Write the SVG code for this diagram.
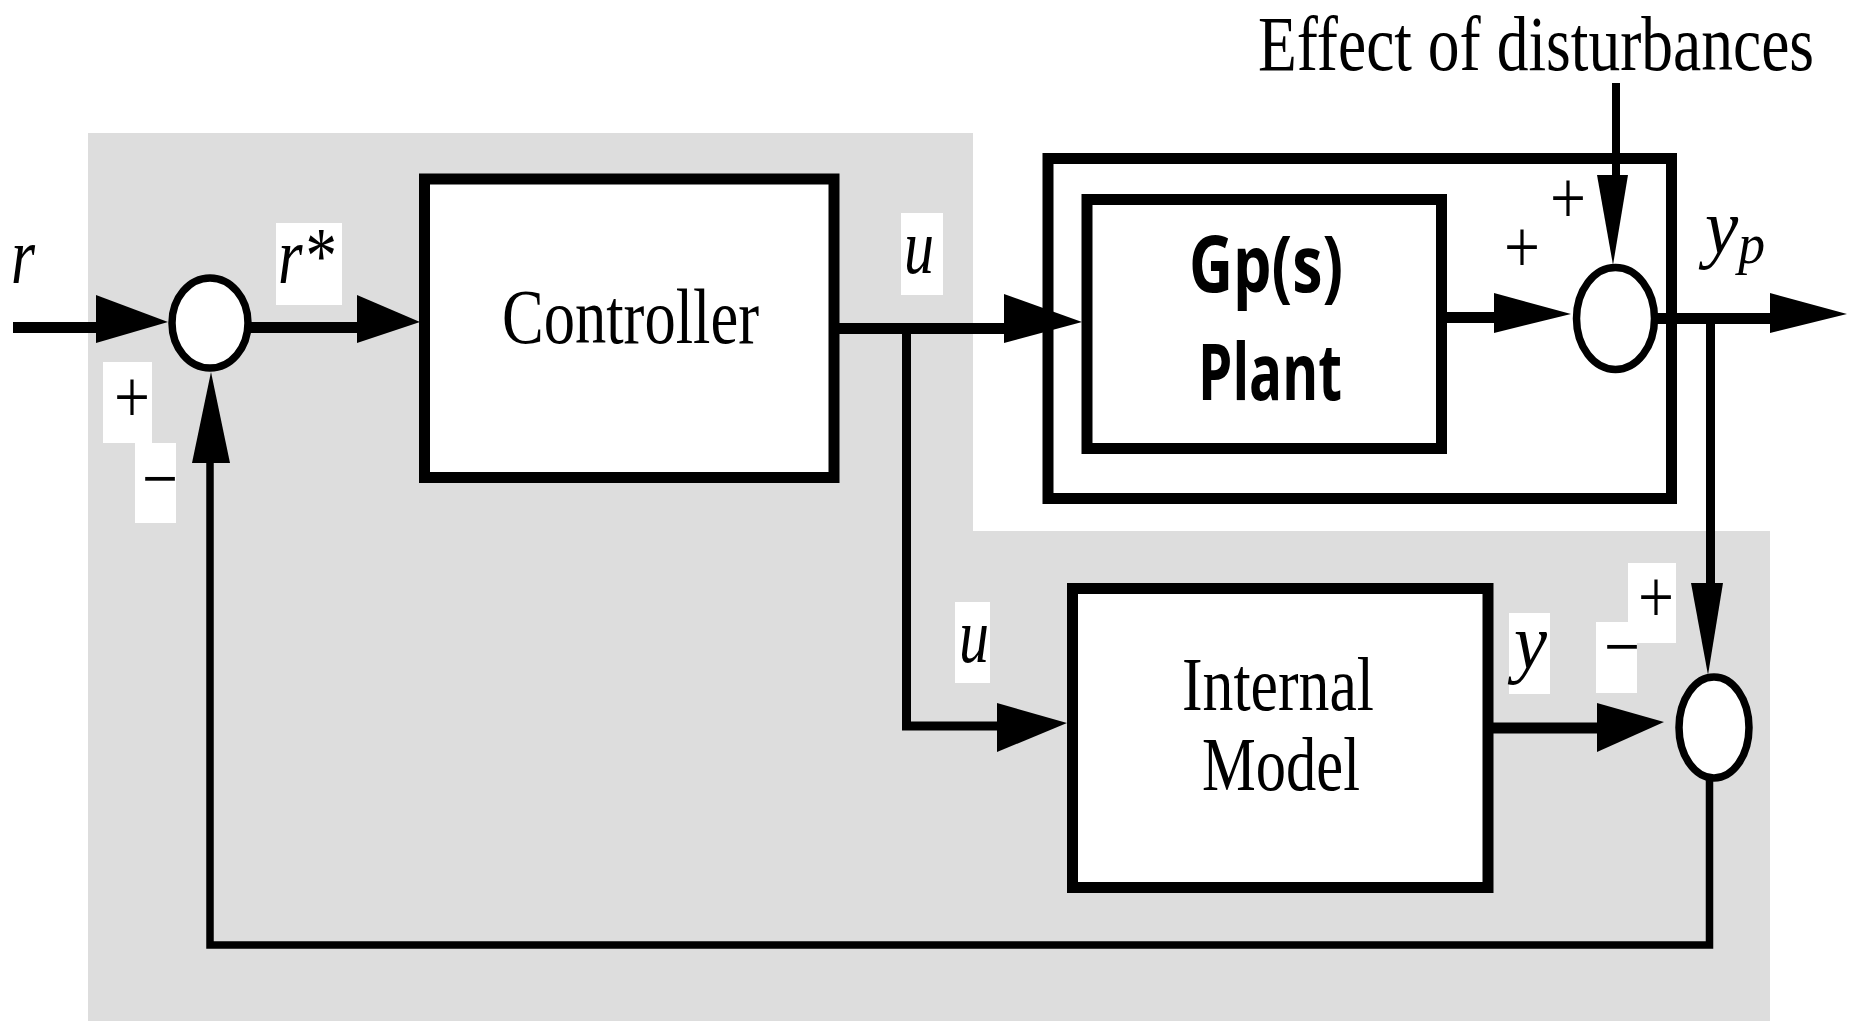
<svg xmlns="http://www.w3.org/2000/svg" width="1850" height="1021" viewBox="0 0 1850 1021">
  <style>
    .box { fill: #ffffff; stroke: #000000; stroke-width: 11; }
    .sum { fill: #ffffff; stroke: #000000; stroke-width: 7.5; }
    .wire { fill: none; stroke: #000000; stroke-linejoin: miter; stroke-linecap: butt; }
    .w11 { stroke-width: 11; }
    .w9 { stroke-width: 9; }
    .w8 { stroke-width: 8; }
    .w7 { stroke-width: 7.5; }
    .head { fill: #000000; stroke: none; }
    .pad { fill: #ffffff; stroke: none; }
    .serif { font-family: "Liberation Serif", "Times New Roman", serif; fill: #000000; }
    .ital { font-style: italic; }
    .bold { font-family: "Open Sans", "Noto Sans", sans-serif; font-weight: bold; fill: #000000; }
  </style>

  <rect x="0" y="0" width="1850" height="1021" fill="#ffffff"/>

  <!-- shaded region: controller side of the IMC structure -->
  <polygon points="88,133 973,133 973,531 1770,531 1770,1021 88,1021" fill="#dddddd"/>

  <!-- white pads behind signal labels -->
  <g id="label-pads">
    <rect class="pad" x="276" y="223" width="66" height="82"/>
    <rect class="pad" x="901" y="213" width="42" height="82"/>
    <rect class="pad" x="955" y="602" width="35" height="81"/>
    <rect class="pad" x="1509" y="613" width="41" height="81"/>
    <rect class="pad" x="103" y="362" width="49" height="81"/>
    <rect class="pad" x="135" y="443" width="41" height="80"/>
    <rect class="pad" x="1628" y="563" width="48" height="80"/>
    <rect class="pad" x="1596" y="622" width="41" height="71"/>
  </g>

  <!-- blocks -->
  <g id="controller">
    <rect class="box" x="424.5" y="179" width="409.5" height="298.5"/>
    <text class="serif" x="502" y="343" font-size="78" textLength="257" lengthAdjust="spacingAndGlyphs">Controller</text>
  </g>

  <g id="plant-process">
    <rect class="box" x="1048" y="158.5" width="623.5" height="340"/>
  </g>

  <g id="plant">
    <rect class="box" x="1087" y="199.5" width="354.5" height="249"/>
    <text class="bold" x="1189" y="292" font-size="78" textLength="154" lengthAdjust="spacingAndGlyphs">Gp(s)</text>
    <text class="bold" x="1198" y="400" font-size="78" textLength="144" lengthAdjust="spacingAndGlyphs">Plant</text>
  </g>

  <g id="internal-model">
    <rect class="box" x="1072.5" y="588.5" width="415.5" height="299"/>
    <text class="serif" x="1182" y="710" font-size="76" textLength="192" lengthAdjust="spacingAndGlyphs">Internal</text>
    <text class="serif" x="1202" y="790" font-size="76" textLength="158" lengthAdjust="spacingAndGlyphs">Model</text>
  </g>

  <g id="sum-reference">
    <ellipse class="sum" cx="210" cy="323" rx="38" ry="45"/>
  </g>

  <g id="sum-disturbance">
    <ellipse class="sum" cx="1615.5" cy="318.5" rx="39" ry="51"/>
  </g>

  <g id="sum-model-error">
    <ellipse class="sum" cx="1714" cy="727.5" rx="35" ry="50.5"/>
  </g>

  <!-- signal lines and arrowheads -->
  <g id="connectors">
    <!-- r into first summing junction -->
    <line class="wire w11" x1="13" y1="327.5" x2="100" y2="327.5"/>
    <polygon class="head" points="96,295 96,343 168,322"/>

    <!-- r* into controller -->
    <line class="wire w11" x1="246" y1="327.5" x2="360" y2="327.5"/>
    <polygon class="head" points="357,295 357,343 420,322"/>

    <!-- u into plant -->
    <line class="wire w11" x1="834" y1="328.5" x2="1008" y2="328.5"/>
    <polygon class="head" points="1004,294 1004,343 1082,322"/>

    <!-- u branch into internal model -->
    <polyline class="wire w9" points="906.5,328 906.5,726 1000,726"/>
    <polygon class="head" points="997,703 997,752 1067,723"/>

    <!-- plant output into disturbance junction -->
    <line class="wire w11" x1="1441.5" y1="317.5" x2="1498" y2="317.5"/>
    <polygon class="head" points="1494,293 1494,333 1571,314"/>

    <!-- disturbance input -->
    <line class="wire w8" x1="1616" y1="83" x2="1616" y2="178"/>
    <polygon class="head" points="1597,175 1628,175 1613,265"/>

    <!-- yp output -->
    <line class="wire w11" x1="1653" y1="318.5" x2="1774" y2="318.5"/>
    <polygon class="head" points="1770,293 1770,333 1847,314"/>

    <!-- yp branch down to model-error junction -->
    <line class="wire w9" x1="1710.5" y1="318" x2="1710.5" y2="586"/>
    <polygon class="head" points="1691,583 1723,583 1708,675"/>

    <!-- model output y into model-error junction -->
    <line class="wire w11" x1="1488" y1="728" x2="1600" y2="728"/>
    <polygon class="head" points="1597,703 1597,752 1664,722"/>

    <!-- feedback path back to the first junction -->
    <polyline class="wire w7" points="1709.5,776 1709.5,945 210,945 210,460"/>
    <polygon class="head" points="192,463 230,463 211,372"/>
  </g>

  <!-- signal names -->
  <g id="signal-labels">
    <text class="serif ital" x="11" y="283" font-size="80" textLength="24" lengthAdjust="spacingAndGlyphs">r</text>
    <text class="serif ital" x="278" y="283" font-size="80" textLength="56" lengthAdjust="spacingAndGlyphs">r*</text>
    <text class="serif ital" x="904" y="273" font-size="78" textLength="30" lengthAdjust="spacingAndGlyphs">u</text>
    <text class="serif ital" x="959" y="662" font-size="78" textLength="30" lengthAdjust="spacingAndGlyphs">u</text>
    <text class="serif ital" x="1514" y="668" font-size="78" textLength="33" lengthAdjust="spacingAndGlyphs">y</text>
    <text class="serif ital" x="1705" y="253" font-size="78" textLength="60" lengthAdjust="spacingAndGlyphs">y<tspan dy="10" font-size="56">p</tspan></text>
    <!-- condensed serif caption, narrowed with a horizontal scale -->
    <text class="serif" transform="translate(1258,70) scale(0.813,1)" x="0" y="0" font-size="78" textLength="684" lengthAdjust="spacingAndGlyphs">Effect of disturbances</text>
  </g>

  <!-- junction signs -->
  <g id="signs">
    <text class="serif" x="114" y="422" font-size="76" textLength="36" lengthAdjust="spacingAndGlyphs">+</text>
    <text class="serif" x="142" y="504" font-size="76" textLength="36" lengthAdjust="spacingAndGlyphs">−</text>
    <text class="serif" x="1550" y="223" font-size="76" textLength="36" lengthAdjust="spacingAndGlyphs">+</text>
    <text class="serif" x="1504" y="272" font-size="76" textLength="36" lengthAdjust="spacingAndGlyphs">+</text>
    <text class="serif" x="1638" y="622" font-size="76" textLength="36" lengthAdjust="spacingAndGlyphs">+</text>
    <text class="serif" x="1604" y="672" font-size="76" textLength="36" lengthAdjust="spacingAndGlyphs">−</text>
  </g>
</svg>
